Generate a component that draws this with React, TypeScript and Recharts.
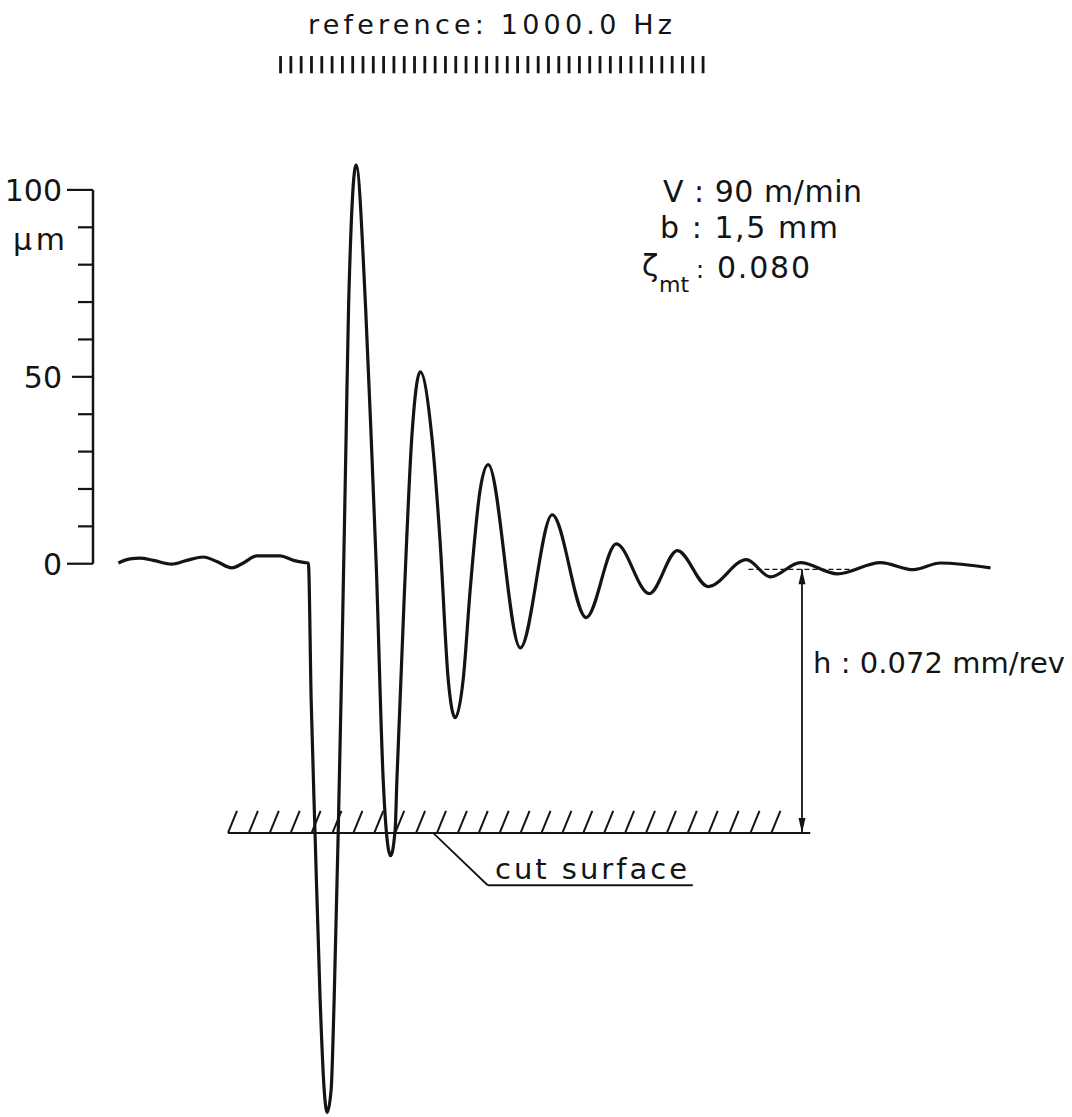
import React from 'react';
import { LineChart, Line, XAxis, YAxis, ReferenceLine } from 'recharts';

// time in ms (1000 Hz reference marks are 1 ms apart), displacement in µm
const times = [
  2.46, 3.59, 4.56, 5.85, 7.64, 9.1, 10.71, 12.01, 13.47, 14.59, 15.89, 18.16, 19.45, 20.58, 20.9,
  21.17, 21.55, 22.04, 22.43, 22.72, 23.11, 23.4, 23.79, 24.17, 24.56, 24.8, 25.53,
  26.45, 26.99, 27.48, 28.16, 28.45, 28.88, 29.32, 29.49, 30.19, 30.94, 31.75,
  32.88, 33.69, 34.47, 35.15, 35.92, 36.6, 37.57, 38.35,
  41.46, 44.56, 47.86, 50.78, 53.98, 56.7, 59.71, 63.4, 65.73, 68.64, 72.23, 76.41, 79.61, 82.23, 87.09,
];
const displacement = [
  0.2, 1.3, 1.5, 0.9, -0.1, 0.9, 1.8, 0.6, -1.1, 0.2, 2.1, 2.1, 0.9, 0.3, 0.2,
  -36.4, -72.5, -116.6, -140.6, -146.8, -140.6, -116.6, -72.5, -23.0, 34.0, 68.7, 106.7,
  68.7, 34.0, 0, -57.8, -71.1, -78.1, -71.1, -57.8, -9.6, 34.0, 51.3,
  34.0, 5.6, -31.0, -41.2, -31.0, -7.0, 19.8, 26.5,
  -22.5, 13.1, -14.4, 5.3, -8.0, 3.5, -6.1, 1.1, -3.5, 0.3, -2.7, 0.3, -1.6, 0.2, -1.1,
];
const yTicks = [0, 10, 20, 30, 40, 50, 60, 70, 80, 90, 100];
const yMajor = [0, 50, 100];
const referenceMarks = [
  18.2, 19.2, 20.2, 21.2, 22.2, 23.2, 24.2, 25.2, 26.2, 27.2, 28.2, 29.2, 30.2, 31.2,
  32.2, 33.2, 34.2, 35.2, 36.2, 37.2, 38.2, 39.2, 40.2, 41.2, 42.2, 43.2, 44.2, 45.2,
  46.2, 47.2, 48.2, 49.2, 50.2, 51.2, 52.2, 53.2, 54.2, 55.2, 56.2, 57.2, 58.2, 59.2,
];
const refMarkLow = 131.2;
const refMarkHigh = 135.8;
const feedH = -72; // h = 0.072 mm/rev = 72 µm
const surfaceStart = 13.1;
const surfaceEnd = 69.6;
const arrowT = 68.8;
const steadyLevel = -1.5;
const steadyStart = 63.6;
const steadyEnd = 73.8;
const leaderT = [33.0, 38.3, 58.2];
const leaderY = [-72, -86, -86];

const data = times.map((t, i) => ({ t, v: displacement[i] }));

const INK = '#141414';
const FONT = '"DejaVu Sans", sans-serif';

const YTick = (props: any) => {
  const { x, y, payload } = props;
  const v = payload.value;
  const major = yMajor.includes(v);
  const len = v === 50 ? 21 : major ? 26 : 15;
  return (
    <g>
      <line x1={x - len} x2={x} y1={y} y2={y} stroke={INK} strokeWidth={2.2} />
      {major && (
        <text x={x - 31} y={y + 11} textAnchor="end" fontSize={30} fontFamily={FONT} fill={INK}>
          {v}
        </text>
      )}
    </g>
  );
};

const HatchShape = (p: any) => {
  const { x1, y1, x2 } = p;
  const slashes: any[] = [];
  let k = 0;
  for (let x = x1; x <= x2 - 36; x += 20.9) {
    slashes.push(
      <line key={k++} x1={x} y1={y1} x2={x + 9} y2={y1 - 22} stroke={INK} strokeWidth={2} />
    );
  }
  return (
    <g>
      <line x1={x1} y1={y1} x2={x2} y2={y1} stroke={INK} strokeWidth={2} />
      {slashes}
    </g>
  );
};

const ArrowShape = (p: any) => {
  const { x1, y1, y2 } = p;
  const top = Math.min(y1, y2);
  const bot = Math.max(y1, y2);
  return (
    <g>
      <line x1={x1} y1={top} x2={x1} y2={bot} stroke={INK} strokeWidth={1.8} />
      <path d={`M${x1},${top} L${x1 - 3.5},${top + 15} L${x1 + 3.5},${top + 15} Z`} fill={INK} />
      <path d={`M${x1},${bot} L${x1 - 3.5},${bot - 15} L${x1 + 3.5},${bot - 15} Z`} fill={INK} />
    </g>
  );
};

export default function App() {
  return (
    <div style={{ position: 'absolute', left: 0, top: 0, width: 1072, height: 1117, overflow: 'hidden', background: '#fff' }}>
      <LineChart width={1072} height={1117} data={data} margin={{ top: 3, right: 0, bottom: 0, left: 0 }}>
        <XAxis dataKey="t" type="number" domain={[0, 95]} hide />
        <YAxis
          type="number"
          domain={[-148, 150]}
          ticks={yTicks}
          interval={0}
          width={93}
          axisLine={false}
          tickLine={false}
          tickSize={0}
          tickMargin={0}
          tick={<YTick />}
        />
        <ReferenceLine segment={[{ x: 0, y: 0 }, { x: 0, y: 100 }]} stroke={INK} strokeWidth={2.5} />
        {referenceMarks.map((m) => (
          <ReferenceLine key={m} segment={[{ x: m, y: refMarkLow }, { x: m, y: refMarkHigh }]} stroke={INK} strokeWidth={2.8} />
        ))}
        <ReferenceLine
          segment={[{ x: surfaceStart, y: feedH }, { x: surfaceEnd, y: feedH }]}
          shape={HatchShape}
        />
        <ReferenceLine
          segment={[{ x: steadyStart, y: steadyLevel }, { x: steadyEnd, y: steadyLevel }]}
          stroke={INK}
          strokeWidth={1.2}
          strokeDasharray="5 3"
        />
        <ReferenceLine
          segment={[{ x: arrowT, y: steadyLevel }, { x: arrowT, y: feedH }]}
          shape={ArrowShape}
        />
        <ReferenceLine segment={[{ x: leaderT[0], y: leaderY[0] }, { x: leaderT[1], y: leaderY[1] }]} stroke={INK} strokeWidth={1.8} />
        <ReferenceLine segment={[{ x: leaderT[1], y: leaderY[1] }, { x: leaderT[2], y: leaderY[2] }]} stroke={INK} strokeWidth={1.8} />
        <Line
          type="monotone"
          dataKey="v"
          stroke={INK}
          strokeWidth={3.2}
          dot={false}
          isAnimationActive={false}
        />
      </LineChart>
      <svg width={1072} height={1117} style={{ position: 'absolute', left: 0, top: 0, pointerEvents: 'none' }}>
        <g fontFamily={FONT} fill={INK}>
          <text x={308} y={34} fontSize={27} textLength={364} lengthAdjust="spacing">reference: 1000.0 Hz</text>
          <text x={13} y={250} fontSize={30} textLength={52} lengthAdjust="spacing">µm</text>
          <text x={663} y={202} fontSize={30} textLength={199} lengthAdjust="spacing">V : 90 m/min</text>
          <text x={660} y={238} fontSize={30} textLength={178} lengthAdjust="spacing">b : 1,5 mm</text>
          <text x={642} y={276} fontSize={30}>ζ</text>
          <text x={659} y={292} fontSize={22}>mt</text>
          <text x={696} y={278} fontSize={24}>:</text>
          <text x={717} y={278} fontSize={30} textLength={93} lengthAdjust="spacing">0.080</text>
          <text x={813} y={673} fontSize={29} textLength={252} lengthAdjust="spacing">h : 0.072 mm/rev</text>
          <text x={495} y={879} fontSize={29} textLength={192} lengthAdjust="spacing">cut surface</text>
        </g>
      </svg>
    </div>
  );
}
